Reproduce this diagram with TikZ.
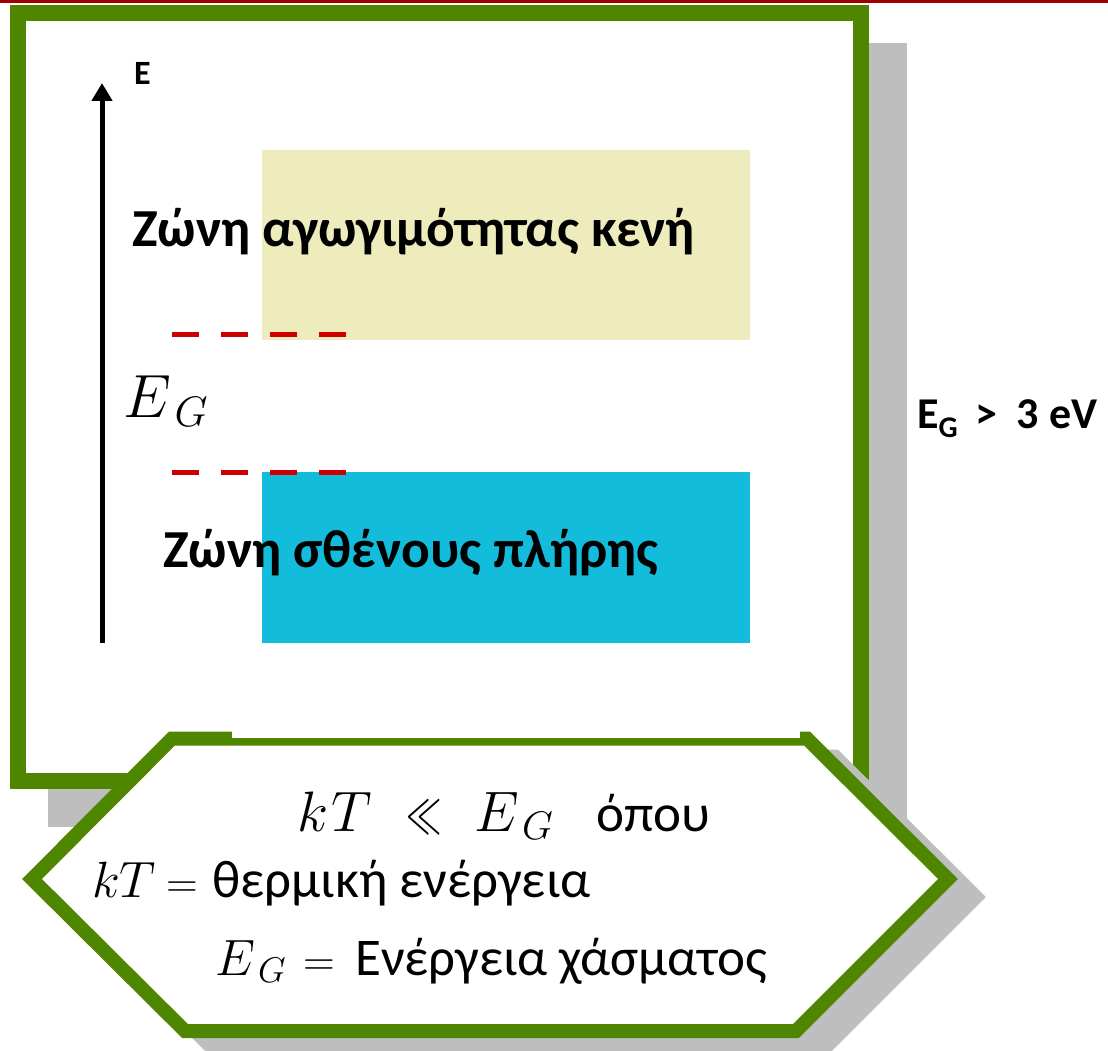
\RequirePackage{fix-cm}
\documentclass[tikz,border=0pt]{standalone}
\usepackage{fontspec}
\setmainfont{Carlito}
\usepackage{graphicx}
\usetikzlibrary{arrows.meta}

\definecolor{framegreen}{RGB}{78,134,0}
\definecolor{shadowgray}{RGB}{190,190,190}
\definecolor{condband}{RGB}{238,236,188}
\definecolor{valband}{RGB}{20,188,220}
\definecolor{levelred}{RGB}{204,0,0}
\definecolor{rulered}{RGB}{160,0,0}

\tikzset{
  mainframe/.style={draw=framegreen, line width=16pt, fill=white, line join=miter},
  hexframe/.style={draw=framegreen, line width=14pt, fill=white, line join=miter},
  shade/.style={fill=shadowgray},
  hexshade/.style={fill=shadowgray, draw=shadowgray, line width=14pt, line join=miter},
  level/.style={draw=levelred, line width=5pt, dash pattern=on 27pt off 22pt},
  txt/.style={inner sep=0pt, anchor=base west},
  bandlabel/.style={txt, font=\fontsize{53.5}{60}\selectfont\bfseries},
  bodytext/.style={txt, font=\fontsize{53}{60}\selectfont},
  mathbig/.style={txt, font=\fontsize{51}{60}\selectfont},
  mathhuge/.style={txt, font=\fontsize{57}{66}\selectfont},
  eqsign/.style={txt, font=\fontsize{44}{50}\selectfont},
}

\begin{document}
\begin{tikzpicture}[x=1pt, y=-1pt]
\useasboundingbox (0,0) rectangle (1108,1051);

% thin rule along the top edge
\draw[rulered, line width=3pt] (0,1.5) -- (1108,1.5);

% main panel with its drop shadow
\fill[shade] (48,43) rectangle (907,827);
\draw[mainframe] (18,13) rectangle (861,781);

% energy bands
\fill[condband] (262,150) rectangle (750,340);
\fill[valband] (262,472) rectangle (750,643);

% band edges
\draw[level] (172,334) -- (347,334);
\draw[level] (172,472) -- (347,472);

% energy axis
\coordinate (axbot) at (102,643);
\coordinate (axtop) at (102,83);
\draw[line width=5pt, -{Triangle[length=18pt, width=20pt]}] (axbot) -- (axtop);

% hexagonal note with its drop shadow
\draw[hexshade, shift={(28,18)}] (172,738.5) -- (807,738.5) -- (948,879) -- (796,1031) -- (185,1031) -- (32,879) -- cycle;
\draw[hexframe] (172,738.5) -- (807,738.5) -- (948,879) -- (796,1031) -- (185,1031) -- (32,879) -- cycle;
\fill[white] (232,729) rectangle (800,738);

% labels
\node[txt, font=\fontsize{34}{40}\selectfont\bfseries] (elabel) at (134,85) {E};
\node[bandlabel] (cond) at (132,247) {Ζώνη αγωγιμότητας κενή};
\node[bandlabel] (val) at (163,567) {Ζώνη σθένους πλήρης};
\node[txt, font=\fontsize{61}{70}\selectfont] (gap) at (123,417) {$E_{\,G}$};
\node[txt, font=\fontsize{44}{50}\selectfont\bfseries] (gapval) at (917,428)
  {E\raisebox{-0.22em}{\fontsize{30}{30}\selectfont G} \,>\ \ 3 eV};

% condition line
\node[mathhuge] (kt1) at (297,831) {$k\mkern1mu T$};
\node[mathhuge] (ll) at (406,831) {\scalebox{0.62}[1]{$\ll$}};
\node[mathhuge] (eg1) at (474,831) {$E_{\,G}$};
\node[bodytext] (opou) at (596,831) {όπου};

% definitions
\node[mathbig] (kt) at (92,897) {$kT$};
\node[eqsign] (kteq) at (166,897) {$=$};
\node[bodytext] (ktdef) at (212,897) {θερμική ενέργεια};
\node[mathbig] (eg) at (215,975) {$E_{\,G}$};
\node[eqsign] (egeq) at (303,975) {$=$};
\node[bodytext] (egdef) at (355,975) {Ενέργεια χάσματος};
\end{tikzpicture}
\end{document}
